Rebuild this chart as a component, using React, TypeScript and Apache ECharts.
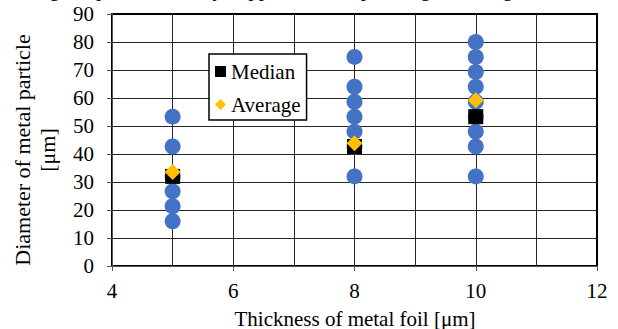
import React, { useEffect, useRef } from "react";
import * as echarts from "echarts";

const FONT = "serif";

// Foil thickness groups (μm)
const thicknessGroups = [5, 8, 10];
// Individual particle diameters (μm) per thickness group
const diameters5 = [53.33, 42.67, 32, 26.67, 21.33, 16];
const diameters8 = [74.67, 64, 58.67, 53.33, 48, 42.67, 32];
const diameters10 = [80, 74.67, 69.33, 64, 58.67, 53.33, 48, 42.67, 32];
// Summary statistics per group
const medianValues = [32, 42.67, 53.33];
const averageValues = [33.6, 43.8, 59.2];

// Axis scales and gridline positions
const xRange = { min: 4, max: 12, interval: 2 };
const yRange = { min: 0, max: 90, interval: 10 };
const xGridValues = [5, 6, 7, 8, 9, 10, 11];
const yGridValues = [10, 20, 30, 40, 50, 60, 70, 80];

const xTitle = "Thickness of metal foil [μm]";
const yTitleLine1 = "Diameter of metal particle";
const yTitleLine2 = "[μm]";
const topCaption = "Change in particle size by copper foil and pressing of each grade";

export default function App() {
  const ref = useRef<HTMLDivElement>(null);

  useEffect(() => {
    if (!ref.current) return;
    const chart = echarts.init(ref.current, null, { renderer: "svg" });

    const groups = [diameters5, diameters8, diameters10];
    const particleData: number[][] = [];
    groups.forEach((arr, i) => arr.forEach((v) => particleData.push([thicknessGroups[i], v])));
    const medianData = thicknessGroups.map((x, i) => [x, medianValues[i]]);
    const averageData = thicknessGroups.map((x, i) => [x, averageValues[i]]);

    const gridMarks = [
      ...xGridValues.map((v) => ({ xAxis: v })),
      ...yGridValues.map((v) => ({ yAxis: v })),
    ];

    chart.setOption({
      animation: false,
      grid: {
        left: 112,
        right: 21,
        top: 14,
        bottom: 63,
        outerBoundsMode: "none",
        show: true,
        borderColor: "#000000",
        borderWidth: 2,
      },
      xAxis: {
        type: "value",
        min: xRange.min,
        max: xRange.max,
        interval: xRange.interval,
        splitLine: { show: true, lineStyle: { color: "#000000", width: 1 } },
        axisLabel: { fontFamily: FONT, fontSize: 21, color: "#000000", margin: 14 },
      },
      yAxis: {
        type: "value",
        min: yRange.min,
        max: yRange.max,
        interval: yRange.interval,
        splitLine: { show: true, lineStyle: { color: "#000000", width: 1 } },
        axisLabel: { fontFamily: FONT, fontSize: 21, color: "#000000", margin: 18 },
      },
      legend: {
        data: [
          { name: "Median", icon: "rect" },
          { name: "Average", icon: "diamond" },
        ],
        orient: "vertical",
        left: 209,
        top: 54,
        backgroundColor: "#ffffff",
        borderColor: "#000000",
        borderWidth: 1.5,
        padding: [7, 6, 5, 6],
        itemGap: 12,
        itemWidth: 11,
        itemHeight: 11,
        textStyle: { fontFamily: FONT, fontSize: 21, color: "#000000" },
        selectedMode: false,
        z: 10,
      },
      graphic: [
        {
          type: "text",
          x: 22,
          y: 150,
          rotation: Math.PI / 2,
          style: {
            text: yTitleLine1,
            fontFamily: FONT,
            fontSize: 22,
            fill: "#000000",
            align: "center",
            verticalAlign: "middle",
          },
        },
        {
          type: "text",
          x: 47,
          y: 150,
          rotation: Math.PI / 2,
          style: {
            text: yTitleLine2,
            fontFamily: FONT,
            fontSize: 22,
            fill: "#000000",
            align: "center",
            verticalAlign: "middle",
          },
        },
        {
          type: "text",
          x: 355,
          y: 319,
          style: {
            text: xTitle,
            fontFamily: FONT,
            fontSize: 21,
            fill: "#000000",
            align: "center",
            verticalAlign: "middle",
          },
        },
        {
          type: "text",
          x: 5,
          y: -0.5,
          style: {
            text: topCaption,
            fontFamily: FONT,
            fontSize: 21,
            fill: "#000000",
            align: "left",
            verticalAlign: "bottom",
          },
        },
      ],
      series: [
        {
          name: "Gridlines",
          type: "scatter",
          data: [],
          z: 1,
          silent: true,
          markLine: {
            silent: true,
            symbol: ["none", "none"],
            label: { show: false },
            lineStyle: { color: "#262626", width: 1, type: "solid" },
            emphasis: { disabled: true },
            z: 1,
            data: gridMarks,
          },
        },
        {
          name: "Particles",
          type: "scatter",
          data: particleData,
          symbol: "circle",
          symbolSize: 16,
          z: 3,
          itemStyle: { color: "#4472C4", opacity: 1 },
        },
        {
          name: "Median",
          type: "scatter",
          data: medianData,
          symbol: "rect",
          symbolSize: 15,
          z: 4,
          itemStyle: { color: "#000000", opacity: 1 },
        },
        {
          name: "Average",
          type: "scatter",
          data: averageData,
          symbol: "diamond",
          symbolSize: 16,
          z: 5,
          itemStyle: { color: "#FFC000", opacity: 1 },
        },
      ],
    });

    return () => chart.dispose();
  }, []);

  return <div ref={ref} style={{ position: "absolute", left: 0, top: 0, width: 618, height: 329 }} />;
}
